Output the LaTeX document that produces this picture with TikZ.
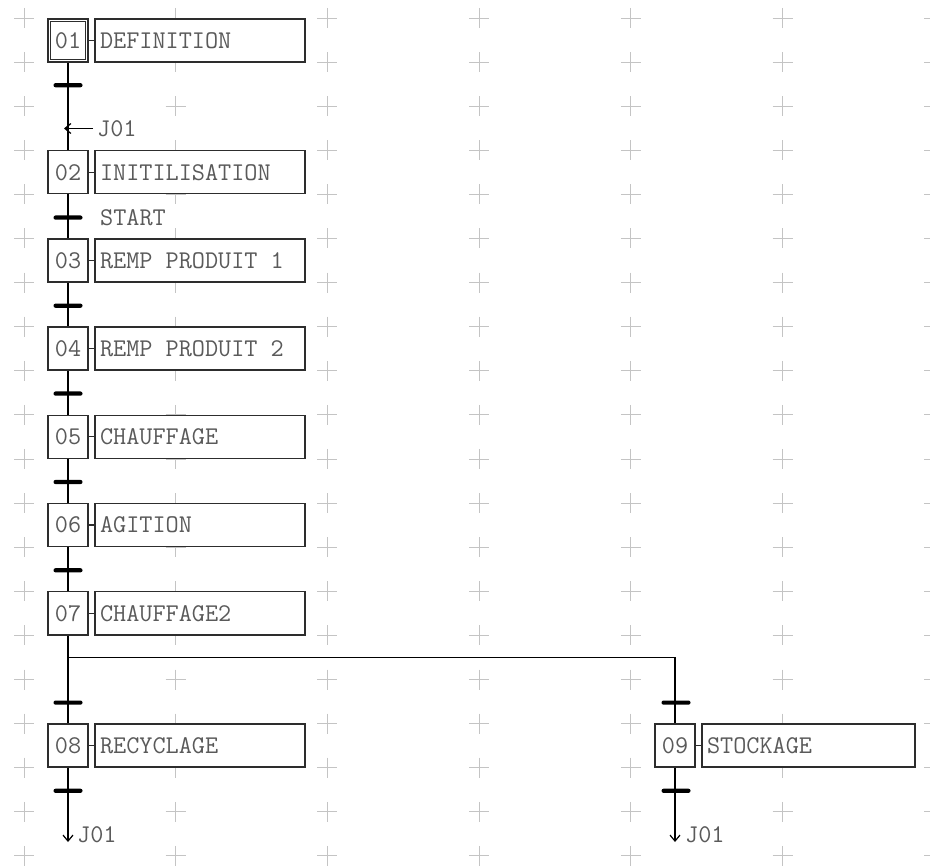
\documentclass[tikz,border=0pt]{standalone}
\usetikzlibrary{arrows.meta}
\definecolor{txt}{RGB}{90,90,90}
\definecolor{gridc}{RGB}{196,196,196}
\definecolor{boxc}{RGB}{45,45,45}
\newcommand\acttext[2][200pt]{\makebox[#1][l]{#2}}
\tikzset{
  gfont/.style={font=\ttfamily\fontsize{25.5}{25.5}\selectfont, text=txt},
  stepbox/.style={gfont, draw=boxc, line width=1.4pt, fill=white, minimum width=40pt, minimum height=43pt, inner sep=0pt},
  actbox/.style={gfont, draw=boxc, line width=1.4pt, fill=white, minimum height=43pt, inner xsep=5pt, inner ysep=0pt},
  trans/.style={fill=black, minimum width=29pt, minimum height=4.2pt, inner sep=0pt, rounded corners=2pt},
  link/.style={draw=black, line width=1.3pt},
  tie/.style={draw=boxc, line width=1.2pt},
  lbl/.style={gfont, inner sep=0pt},
  jarrow/.style={draw=black, line width=1.2pt, -{Straight Barb[length=6pt,width=10pt]}},
  gcross/.style={draw=gridc, line width=0.9pt}
}
\begin{document}
\begin{tikzpicture}[x=1pt,y=-1pt]
\fill[white] (0,0) rectangle (930,866);
\useasboundingbox (0,0) rectangle (930,866);
% grid of crosses
\foreach \i in {0,...,6}{
  \foreach \k in {0,...,19}{
    \draw[gcross] ({24+151.7*\i-10},{18+44.1*\k}) -- ({24+151.7*\i+10},{18+44.1*\k})
                  ({24+151.7*\i},{18+44.1*\k-10}) -- ({24+151.7*\i},{18+44.1*\k+10});
  }
}
% steps
\node[stepbox] (s1) at (68,40.5) {01};
\draw[boxc, line width=1pt] ([shift={(3.5pt,-3.5pt)}]s1.north west) rectangle ([shift={(-3.5pt,3.5pt)}]s1.south east);
\node[stepbox] (s2) at (68,172.3) {02};
\node[stepbox] (s3) at (68,260.5) {03};
\node[stepbox] (s4) at (68,348.7) {04};
\node[stepbox] (s5) at (68,436.9) {05};
\node[stepbox] (s6) at (68,525.1) {06};
\node[stepbox] (s7) at (68,613.3) {07};
\node[stepbox] (s8) at (68,745.6) {08};
\node[stepbox] (s9) at (675,745.6) {09};
% actions
\node[actbox] (a1) at (200,40.5) {\acttext{DEFINITION}};
\node[actbox] (a2) at (200,172.3) {\acttext{INITILISATION}};
\node[actbox] (a3) at (200,260.5) {\acttext{REMP PRODUIT 1}};
\node[actbox] (a4) at (200,348.7) {\acttext{REMP PRODUIT 2}};
\node[actbox] (a5) at (200,436.9) {\acttext{CHAUFFAGE}};
\node[actbox] (a6) at (200,525.1) {\acttext{AGITION}};
\node[actbox] (a7) at (200,613.3) {\acttext{CHAUFFAGE2}};
\node[actbox] (a8) at (200,745.6) {\acttext{RECYCLAGE}};
\node[actbox] (a9) at (808.5,745.6) {\acttext[203pt]{STOCKAGE}};
\foreach \n in {1,...,9}{ \draw[tie] (s\n.east) -- (a\n.west); }
% links
\draw[link] (s1.south) -- (s2.north);
\draw[link] (s2.south) -- (s3.north);
\draw[link] (s3.south) -- (s4.north);
\draw[link] (s4.south) -- (s5.north);
\draw[link] (s5.south) -- (s6.north);
\draw[link] (s6.south) -- (s7.north);
\draw[link] (s7.south) -- (s8.north);
\coordinate (d) at (68,657.3);
\draw[link] (d) -| (s9.north);
% transitions
\node[trans] (t1) at (68,85.2) {};
\node[trans] (t2) at (68,217.6) {};
\node[trans] (t3) at (68,305.7) {};
\node[trans] (t4) at (68,393.6) {};
\node[trans] (t5) at (68,482) {};
\node[trans] (t6) at (68,570.3) {};
\node[trans] (t7) at (68,702.6) {};
\node[trans] (t8) at (68,790.8) {};
\node[trans] (t9) at (676,702.6) {};
\node[trans] (t10) at (676,790.8) {};
% labels
\node[lbl, anchor=west] (start) at (100,217.6) {START};
\node[lbl, anchor=west] (j1) at (97,128.5) {J01};
\draw[jarrow] ([xshift=-4pt]j1.west) -- ([xshift=-4pt]j1.west -| s1.center);
\coordinate (e8) at (68,842);
\coordinate (e9) at (675,842);
\draw[jarrow] (s8.south) -- (e8);
\draw[jarrow] (s9.south) -- (e9);
\node[lbl, anchor=west] (j8) at (77,834.5) {J01};
\node[lbl, anchor=west] (j9) at (685,834.5) {J01};
\end{tikzpicture}
\end{document}
